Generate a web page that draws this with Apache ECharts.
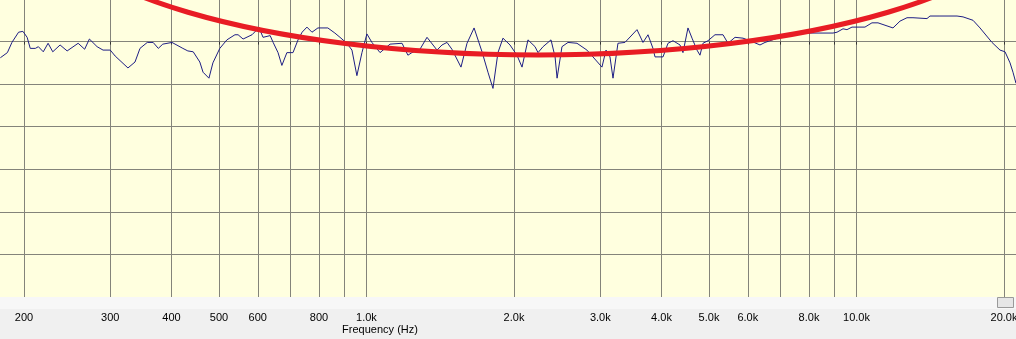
<!DOCTYPE html>
<html>
<head>
<meta charset="utf-8">
<script src="https://cdn.jsdelivr.net/npm/echarts@6/dist/echarts.min.js"></script>
<style>
html,body{margin:0;padding:0;background:#f0f0f0;}
#chart{width:1016px;height:339px;}
</style>
</head>
<body>
<div id="chart"></div>
<script>
// Frequency (Hz) of each sample of the response curve
const freqHz = [
  179,185,189,195,199,203,206,211,214,219,224,229,237,245,258,266,272,282,290,300,
  307,326,337,345,357,367,376,384,401,422,432,443,457,464,477,486,502,519,539,547,
  560,584,598,603,615,636,645,660,672,688,708,725,739,756,774,796,834,862,883,
  912,934,956,979,1002,1026,1066,1117,1182,1215,1238,1286,1329,1393,1426,1460,1494,1559,1604,1658,
  1721,1770,1812,1855,1899,1963,2028,2077,2136,2208,2239,2293,2380,2426,2449,2506,2578,2689,2818,3024,
  3082,3140,3185,3260,3369,3565,3667,3754,3843,3880,4029,4124,4222,4364,
  4425,4530,4617,4726,4793,4861,4977,5143,5341,5467,5651,5867,6062,6355,6506,6982,7215,7668,8150,8543,
  8955,9125,9386,9563,9791,10165,10406,10754,11063,11326,11871,12268,12679,13040,13926,14125,14803,16039,16497,17289,
  17868,18903,19630,20096,20574,20863,21159
];
// Level (dB) of each sample
const levelDb = [
  -1.9,-1.3,-0.1,1.1,1.2,0.5,-0.8,-0.8,-0.6,-1.2,-0.2,-1.2,-0.4,-1.1,-0.2,-0.9,0.3,-0.6,-1.0,-1.0,
  -1.7,-3.1,-2.4,-0.8,-0.1,-0.1,-0.8,-0.3,-0.1,-0.8,-1.1,-1.2,-2.4,-3.6,-4.3,-2.5,-0.8,0.2,0.8,0.8,
  0.3,0.8,1.4,1.7,0.5,0.7,-0.1,-1.3,-2.8,-1.3,-1.3,0.2,1.1,1.7,1.1,1.6,1.6,1.0,0.5,
  -0.2,-1.0,-4.0,-1.3,0.9,-0.1,-1.3,-0.3,-0.2,-1.6,-1.3,-0.9,0.5,-1.0,-0.4,-0.1,-0.9,-3.0,-0.2,1.6,
  -1.2,-3.6,-5.5,-1.3,0.4,-0.4,-1.6,-3.0,0.2,-0.6,-1.3,-0.6,0.2,-1.8,-4.3,-0.6,-0.1,-0.2,-1.0,-3.0,
  -1.0,-1.8,-4.3,-0.2,-0.1,1.4,-0.1,0.8,-0.8,-1.8,-1.8,-0.2,0.1,-0.4,
  -1.3,1.6,0.4,-1.0,-1.6,-0.2,0.1,0.8,0.8,-0.2,0.5,0.4,0.1,-0.4,-0.1,0.5,0.9,1.0,1.0,1.0,
  1.0,1.1,1.5,1.4,1.7,1.7,1.7,2.2,2.2,2.0,1.6,2.4,2.8,2.8,2.7,3.0,3.0,3.0,2.9,2.5,
  1.6,-0.1,-1.0,-1.2,-2.5,-3.6,-4.9
];
// Axis tick frequencies and labelled frequencies
const tickFreqs = [200,300,400,500,600,700,800,900,1000,2000,3000,4000,5000,6000,7000,8000,9000,10000,20000];
const labelFreqs = [200,300,400,500,600,800,1000,2000,3000,4000,5000,6000,8000,10000,20000];
const xAxisName = 'Frequency (Hz)';

const chart = echarts.init(document.getElementById('chart'), null, {renderer: 'canvas'});
const gridColor = '#84847a';
const option = {
  animation: false,
  backgroundColor: '#f0f0f0',
  grid: {left: 0, right: 0, top: -1, bottom: 42, show: true, backgroundColor: '#ffffdf', borderWidth: 0,
         containLabel: false, outerBoundsMode: 'none'},
  xAxis: {
    type: 'log', logBase: 10, min: 178.7, max: 21160,
    offset: 12,
    axisLine: {show: false},
    axisTick: {show: true, length: 3, inside: false, customValues: tickFreqs, lineStyle: {color: '#333'}},
    axisLabel: {
      show: true, margin: 3, customValues: labelFreqs,
      fontFamily: 'Liberation Sans', fontSize: 11, color: '#000',
      formatter: v => v >= 1000 ? (v / 1000).toFixed(1) + 'k' : String(v)
    },
    splitLine: {show: true, customValues: tickFreqs, lineStyle: {color: gridColor, width: 1}},
    minorTick: {show: false}, minorSplitLine: {show: false}
  },
  yAxis: {
    type: 'value', min: -30, max: 5, interval: 5,
    axisLine: {show: false}, axisTick: {show: false}, axisLabel: {show: false},
    splitLine: {show: true, lineStyle: {color: gridColor, width: 1}}
  },
  series: [{
    type: 'line',
    data: freqHz.map((f, i) => [f, levelDb[i]]),
    showSymbol: false, symbol: 'none',
    lineStyle: {color: '#1e1e84', width: 1},
    clip: true
  }],
  graphic: [
    {type: 'rect', z: 100, shape: {x: 0, y: 297, width: 1016, height: 12}, style: {fill: '#f7f7f7'}},
    {type: 'rect', z: 101, shape: {x: 997.5, y: 297.5, width: 16, height: 10}, style: {fill: '#e6e6e6', stroke: '#9a9a9a', lineWidth: 1}},
    {type: 'ellipse', z: 110, shape: {cx: 538, cy: -91, rx: 495, ry: 146}, style: {fill: null, stroke: '#e81c24', lineWidth: 5}},
    {type: 'text', z: 100, x: 380, y: 324, style: {text: xAxisName, textAlign: 'center', fontFamily: 'Liberation Sans', fontSize: 11, fill: '#000'}}
  ]
};
chart.setOption(option);
</script>
</body>
</html>
